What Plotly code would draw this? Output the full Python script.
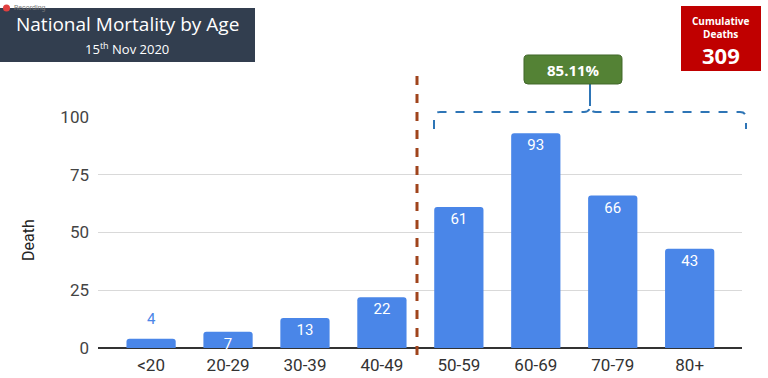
import plotly.graph_objects as go

categories = ["<20", "20-29", "30-39", "40-49", "50-59", "60-69", "70-79", "80+"]
deaths = [4, 7, 13, 22, 61, 93, 66, 43]
y_ticks = [0, 25, 50, 75, 100]
title_text = "National Mortality by Age"
subtitle_text = "15<sup>th</sup> Nov 2020"
share_label = "85.11%"
cumulative_label = "Cumulative<br>Deaths"
cumulative_value = "309"

W, H = 768, 378
L, R, T, B = 98, 26, 117, 30
PW, PH = W - L - R, H - T - B

def px(x):
    return (x - L) / PW

def py(y):
    return (H - B - y) / PH

BLUE = "#4A86E8"
SMALL = 5
inside_text = ["" if v < SMALL else str(v) for v in deaths]

fig = go.Figure(go.Bar(
    x=list(range(len(categories))), y=deaths,
    marker=dict(color=BLUE, line=dict(width=0)),
    width=0.64,
    text=inside_text,
    textposition="inside",
    textangle=0,
    insidetextanchor="end",
    textfont=dict(family="Roboto", size=15, color="white"),
    cliponaxis=False,
))

shapes = []
shapes.append(dict(type="rect", xref="paper", yref="paper", x0=px(0), x1=px(255), y0=py(62), y1=py(8),
                   fillcolor="#323E4F", line=dict(width=0), layer="above"))
shapes.append(dict(type="rect", xref="paper", yref="paper", x0=px(681), x1=px(761), y0=py(71), y1=py(6),
                   fillcolor="#C00000", line=dict(width=0), layer="above"))
shapes.append(dict(type="line", xref="paper", yref="paper", x0=px(417), x1=px(417), y0=py(355), y1=py(74),
                   line=dict(color="#A0441C", width=3, dash="dash"), layer="above"))

def P(x, y):
    return f"{px(x):.5f},{py(y):.5f}"

bracket = (f"M{P(434,129)} L{P(434,118)} Q{P(434,112)} {P(440,112)} L{P(584,112)} "
           f"Q{P(590,112)} {P(590,106)} Q{P(590,112)} {P(596,112)} L{P(740,112)} "
           f"Q{P(746,112)} {P(746,118)} L{P(746,129)}")
shapes.append(dict(type="path", xref="paper", yref="paper", path=bracket,
                   line=dict(color="#2E75B6", width=2, dash="dash"), layer="above"))
shapes.append(dict(type="line", xref="paper", yref="paper", x0=px(590), x1=px(590), y0=py(106), y1=py(84),
                   line=dict(color="#2E75B6", width=2), layer="above"))
x0, x1, y0, y1, r = 524, 622, 55, 84, 4
green = (f"M{P(x0+r,y0)} L{P(x1-r,y0)} Q{P(x1,y0)} {P(x1,y0+r)} L{P(x1,y1-r)} Q{P(x1,y1)} {P(x1-r,y1)} "
         f"L{P(x0+r,y1)} Q{P(x0,y1)} {P(x0,y1-r)} L{P(x0,y0+r)} Q{P(x0,y0)} {P(x0+r,y0)} Z")
shapes.append(dict(type="path", xref="paper", yref="paper", path=green,
                   fillcolor="#548235", line=dict(color="#41672A", width=1), layer="above"))
shapes.append(dict(type="circle", xref="paper", yref="paper", x0=px(3), x1=px(10), y0=py(11.5), y1=py(4.5),
                   fillcolor="#E04040", line=dict(width=0), layer="above"))

ann = []
for i, v in enumerate(deaths):
    if v < SMALL:
        ann.append(dict(xref="x", yref="y", x=i, y=v, text=str(v), showarrow=False, yshift=20,
                        font=dict(family="Roboto", size=15, color=BLUE), xanchor="center", yanchor="middle"))
ann.append(dict(xref="paper", yref="paper", x=px(127), y=py(24), text=title_text, showarrow=False,
                font=dict(family="Open Sans", size=19, color="white"), xanchor="center", yanchor="middle"))
ann.append(dict(xref="paper", yref="paper", x=px(127), y=py(48), text=subtitle_text, showarrow=False,
                font=dict(family="Open Sans", size=13, color="white"), xanchor="center", yanchor="middle"))
ann.append(dict(xref="paper", yref="paper", x=px(721), y=py(27), text=cumulative_label, showarrow=False,
                font=dict(family="Open Sans", size=10, color="white", weight="bold"), xanchor="center", yanchor="middle"))
ann.append(dict(xref="paper", yref="paper", x=px(721), y=py(55), text=f"<b>{cumulative_value}</b>", showarrow=False,
                font=dict(family="Open Sans", size=22, color="white"), xanchor="center", yanchor="middle"))
ann.append(dict(xref="paper", yref="paper", x=px(573), y=py(70), text=f"<b>{share_label}</b>", showarrow=False,
                font=dict(family="Open Sans", size=15, color="white"), xanchor="center", yanchor="middle"))
ann.append(dict(xref="paper", yref="paper", x=px(28), y=py(240), text="Death", showarrow=False, textangle=-90,
                font=dict(family="Roboto", size=16, color="#222"), xanchor="center", yanchor="middle"))
ann.append(dict(xref="paper", yref="paper", x=px(12), y=py(8), text="Recording", showarrow=False,
                font=dict(family="Roboto", size=7, color="#777"), xanchor="left", yanchor="middle"))

fig.update_layout(
    width=W, height=H,
    margin=dict(l=L, r=R, t=T, b=B, autoexpand=False),
    plot_bgcolor="white", paper_bgcolor="white",
    showlegend=False,
    barcornerradius=3,
    uniformtext=dict(minsize=14, mode="show"),
    shapes=shapes, annotations=ann,
    xaxis=dict(tickmode="array", tickvals=list(range(len(categories))), ticktext=categories,
               range=[-0.69, 7.68], showgrid=False, zeroline=False, showline=False, ticks="",
               automargin=False, ticklabelstandoff=5,
               tickfont=dict(family="Roboto", size=17, color="#333")),
    yaxis=dict(range=[0, 100], tickvals=y_ticks, showgrid=True, gridcolor="#D9D9D9", gridwidth=1,
               zeroline=True, zerolinecolor="#333", zerolinewidth=1.5, ticks="", ticklen=0,
               automargin=False,
               tickfont=dict(family="Roboto", size=17, color="#444"), ticklabelstandoff=8),
)
fig.write_html("out.html", config={"displayModeBar": False},
               post_script="document.body.style.margin='0';document.body.style.overflow='hidden';")
